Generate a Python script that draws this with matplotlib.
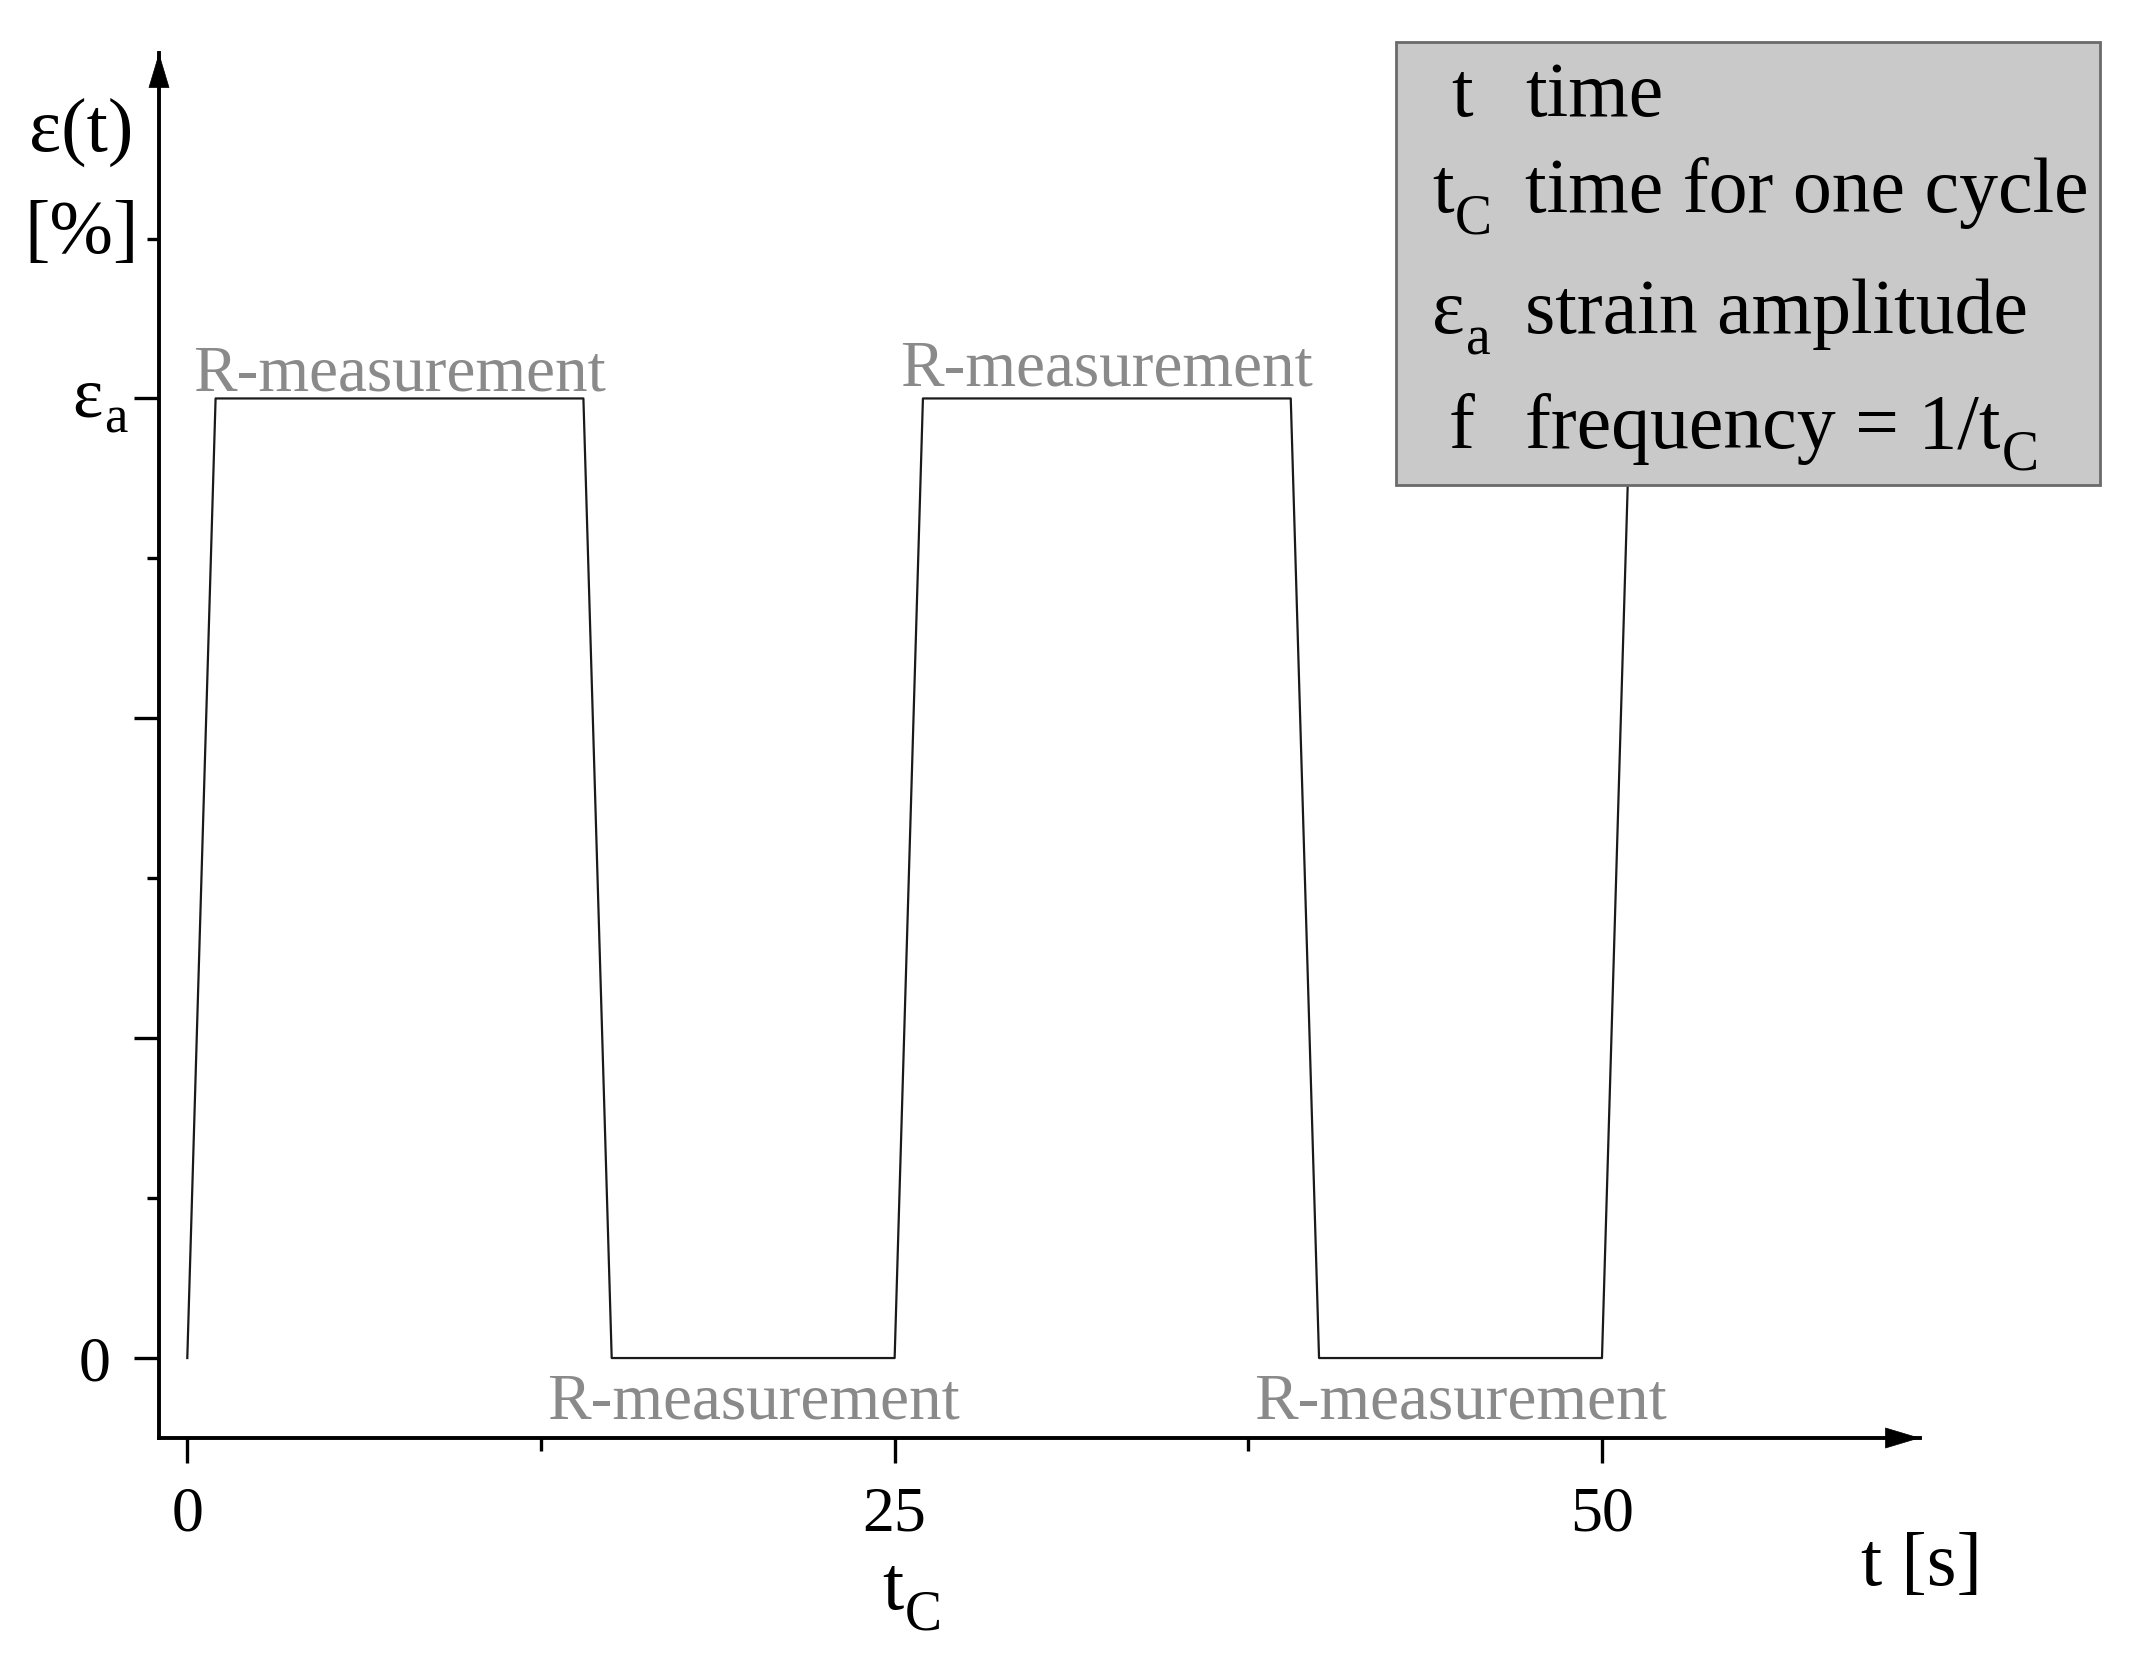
import matplotlib
matplotlib.use("Agg")
import matplotlib.pyplot as plt
from matplotlib.patches import Rectangle
from matplotlib.text import Text, Annotation

plt.rcParams["font.family"] = ["Liberation Serif", "DejaVu Serif"]

# strain signal (one trapezoid cycle = 25 s)
EA = 0.6
t_s = [0, 1, 14, 15, 25, 26, 39, 40, 50, 51]
strain = [0, EA, EA, 0, 0, EA, EA, 0, 0, EA]

x_major = [0, 25, 50]
x_major_labels = ["0", "25", "50"]
x_minor = [12.5, 37.5]
y_major = [0, 0.2, 0.4, EA]
y_major_labels = ["0", "", "", ""]
y_minor = [0.1, 0.3, 0.5, 0.7]

# definitions box rows: (symbol, subscript, description, description subscript)
legend_sym = ["t", "t", "ε", "f"]
legend_sub = ["", "C", "a", ""]
legend_txt = ["time", "time for one cycle", "strain amplitude",
              "frequency = 1/t"]
legend_txt_sub = ["", "", "", "C"]

W, H = 2148, 1666
fig = plt.figure(figsize=(W / 100, H / 100), dpi=100)
ax = fig.add_axes([159 / W, (H - 1438) / H, (1920 - 159) / W, (1438 - 53) / H])


def sub_text(x, y, base, sub, size, sub_size, transform, ha="left",
             dy=-3, zorder=6):
    b = Text(x, y, base, fontsize=size, ha=ha, va="baseline",
             transform=transform, zorder=zorder)
    fig.add_artist(b)
    if sub:
        a = Annotation(sub, xy=(1, 0), xycoords=b, xytext=(1, dy),
                       textcoords="offset points", fontsize=sub_size,
                       ha="left", va="baseline", zorder=zorder)
        fig.add_artist(a)
    return b


ax.plot(t_s, strain, color="#1a1a1a", lw=1.6, zorder=2)
ax.set_xlim(-1, 61.24)
ax.set_ylim(-0.05, 0.816)

for s in ["top", "right"]:
    ax.spines[s].set_visible(False)
for s in ["left", "bottom"]:
    ax.spines[s].set_linewidth(2.8)

ax.set_xticks(x_major, x_major_labels)
ax.set_xticks(x_minor, minor=True)
ax.set_yticks(y_major, y_major_labels)
ax.set_yticks(y_minor, minor=True)
ax.tick_params(which="major", length=18, width=2.4, labelsize=46)
ax.tick_params(which="minor", length=9, width=2.4)
ax.tick_params(axis="x", which="major", pad=17)
ax.tick_params(axis="y", which="major", pad=17)

# arrow heads on both axes
for xy, off in [((1, 0), (-34, 0)), ((0, 1), (0, -34))]:
    ax.annotate("", xy=xy, xycoords="axes fraction", xytext=off,
                textcoords="offset pixels", annotation_clip=False,
                arrowprops=dict(arrowstyle="-|>,head_length=2.4,head_width=0.72",
                                color="black", lw=0.5, shrinkA=0, shrinkB=0,
                                mutation_scale=10))

# R-measurement labels on every plateau
for i in range(len(t_s) - 1):
    if strain[i] == strain[i + 1] and t_s[i + 1] - t_s[i] > 5:
        mid = (t_s[i] + t_s[i + 1]) / 2
        if strain[i] > 0:
            yy = strain[i] + 0.005 + (0.003 if mid > 25 else 0)
        else:
            yy = -0.038
        ax.text(mid, yy, "R-measurement", ha="center", va="baseline",
                fontsize=47, color="#8a8a8a", clip_on=False)

# axis labels
ax.text(-3.75, 0.755, "ε(t)", ha="center", va="baseline", fontsize=55,
        clip_on=False)
ax.text(-3.75, 0.691, "[%]", ha="center", va="baseline", fontsize=55,
        clip_on=False)
ax.text(61.3, -0.142, "t [s]", ha="center", va="baseline", fontsize=55,
        clip_on=False)
sub_text(24.55, -0.157, "t", "C", 55, 40, ax.transData, zorder=3)
# strain amplitude tick label
sub_text(-4.05, EA - 0.011, "ε", "a", 52, 38, ax.transData, dy=-1, zorder=3)

# definitions box
fig.patches.append(Rectangle((1396 / W, (H - 485) / H), 704 / W, 443 / H,
                             transform=fig.transFigure, facecolor="#c9c9c9",
                             edgecolor="#6a6a6a", lw=2, zorder=5))
rows_y = [116, 212, 333, 448]
for sym, sub, txt, tsub, yb in zip(legend_sym, legend_sub, legend_txt,
                                   legend_txt_sub, rows_y):
    if sub:
        sub_text(1432 / W, 1 - yb / H, sym, sub, 56, 40, fig.transFigure)
    else:
        sub_text(1462 / W, 1 - yb / H, sym, "", 56, 40, fig.transFigure,
                 ha="center")
    sub_text(1525 / W, 1 - yb / H, txt, tsub, 56, 40, fig.transFigure)

fig.savefig("out.png", dpi=100)
